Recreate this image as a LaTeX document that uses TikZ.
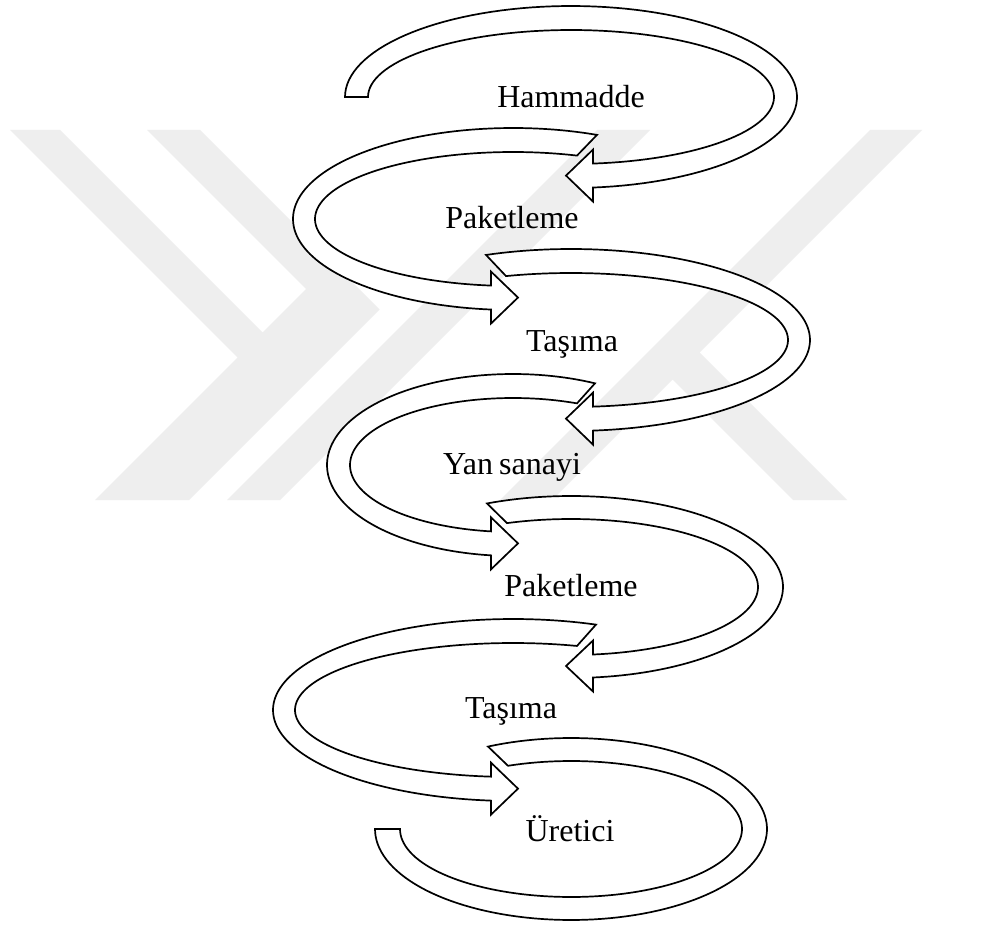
\documentclass[tikz,border=0pt]{standalone}
\usepackage{fontspec}
\setmainfont{Liberation Serif}
\newfontfamily\stepfont{Liberation Serif}
\definecolor{wmgray}{RGB}{238,238,238}

% Curved band arrow turning right (clockwise on screen), head pointing left.
% #1,#2 centre; #3,#4 outer radii; #5,#6 inner radii;
% #7,#8 x of outer/inner start; #9 x of the arrow neck
\newcommand\rightturn[9]{%
  \pgfmathsetmacro\tsO{acos((#7-#1)/#3)}%
  \pgfmathsetmacro\tsI{acos((#8-#1)/#5)}%
  \pgfmathsetmacro\teO{-acos((#9-#1)/#3)}%
  \pgfmathsetmacro\teI{-acos((#9-#1)/#5)}%
  \pgfmathsetmacro\yO{#2-#4*sin(\teO)}%
  \pgfmathsetmacro\yI{#2-#6*sin(\teI)}%
  \pgfmathsetmacro\yM{(\yO+\yI)/2}%
  \filldraw[band] plot[domain=\tsO:\teO,samples=100] ({#1+#3*cos(\x)},{#2-#4*sin(\x)})
    -- (#9,\yO+\barb) -- (#9-\headlen,\yM) -- (#9,\yI-\barb)
    -- plot[domain=\teI:\tsI,samples=100] ({#1+#5*cos(\x)},{#2-#6*sin(\x)}) -- cycle;
}
% Same, turning left (counter-clockwise on screen), head pointing right.
\newcommand\leftturn[9]{%
  \pgfmathsetmacro\tsO{acos((#7-#1)/#3)}%
  \pgfmathsetmacro\tsI{acos((#8-#1)/#5)}%
  \pgfmathsetmacro\teO{360-acos((#9-#1)/#3)}%
  \pgfmathsetmacro\teI{360-acos((#9-#1)/#5)}%
  \pgfmathsetmacro\yO{#2-#4*sin(\teO)}%
  \pgfmathsetmacro\yI{#2-#6*sin(\teI)}%
  \pgfmathsetmacro\yM{(\yO+\yI)/2}%
  \filldraw[band] plot[domain=\tsO:\teO,samples=100] ({#1+#3*cos(\x)},{#2-#4*sin(\x)})
    -- (#9,\yO+\barb) -- (#9+\headlen,\yM) -- (#9,\yI-\barb)
    -- plot[domain=\teI:\tsI,samples=100] ({#1+#5*cos(\x)},{#2-#6*sin(\x)}) -- cycle;
}
\def\barb{14}
\def\headlen{27}

\begin{document}
\begin{tikzpicture}[x=1pt,y=-1pt,
  band/.style={draw=black,fill=white,line width=1.7pt,line join=miter,miter limit=10},
  steplabel/.style={font=\stepfont\fontsize{32}{38}\selectfont,inner sep=0pt,anchor=base},
  wm/.style={fill=wmgray,draw=none}]
\fill[white] (0,0) rectangle (985,925);
\useasboundingbox (0,0) rectangle (985,925);

% background logo: left chevron with doubled upper arm
\fill[wm] (10,130) -- (60,130) -- (262.5,332.5) -- (306,289) -- (147,130) -- (200,130)
  -- (379.5,309.5) -- (189,500) -- (95,500) -- (237.5,357.5) -- cycle;
% middle slash
\fill[wm] (597,130) -- (650,130) -- (280,500) -- (227,500) -- cycle;
% right slash with its branch
\fill[wm] (870,130) -- (922,130) -- (699.5,352.5) -- (847,500) -- (793,500)
  -- (672.5,379.5) -- (552,500) -- (500,500) -- cycle;

% the chain of curved arrows
\rightturn{571}{97}{226}{91}{203}{67}{345}{368}{593}
\leftturn{513}{219}{220}{91}{198}{67}{597}{577}{491}
\rightturn{571}{340}{239}{91}{217}{67}{486}{506}{593}
\leftturn{513}{465}{186}{91}{163}{67}{595}{577}{491}
\rightturn{571}{587}{212}{91}{187}{68}{487}{507}{593}
\leftturn{513}{710}{240}{91}{218}{67}{596}{577}{491}
% last band: no head, flat end on the left
\pgfmathsetmacro\tsO{acos((488-571)/196)}
\pgfmathsetmacro\tsI{acos((508-571)/171)}
\filldraw[band] plot[domain=\tsO:-180,samples=120] ({571+196*cos(\x)},{829-91*sin(\x)})
  -- plot[domain=-180:\tsI,samples=120] ({571+171*cos(\x)},{829-68*sin(\x)}) -- cycle;

% labels
\node[steplabel] (hammadde) at (571,108) {Hammadde};
\node[steplabel] (paket1) at (512,229) {Paketleme};
\node[steplabel] (tasima1) at (572,351) {Taşıma};
\node[steplabel] (yansanayi) at (512,474) {Yan\kern-0.06em\ sanayi};
\node[steplabel] (paket2) at (571,596) {Paketleme};
\node[steplabel] (tasima2) at (511,718) {Taşıma};
\node[steplabel] (uretici) at (570,841) {Üretici};
\end{tikzpicture}
\end{document}
